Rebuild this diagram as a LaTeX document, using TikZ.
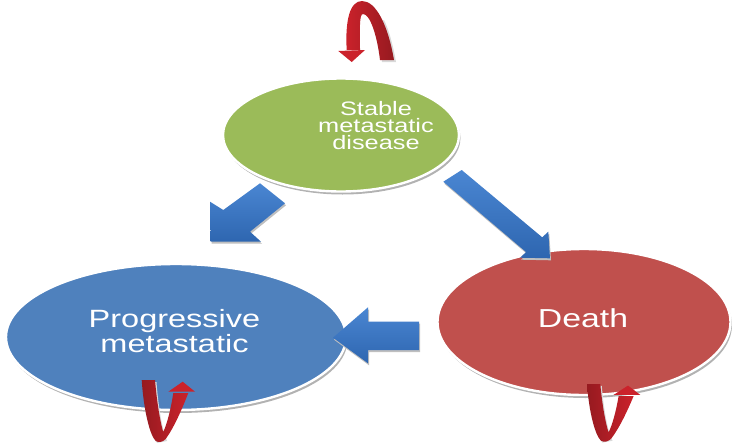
\documentclass[tikz,border=0pt]{standalone}
\usepackage{fontspec}
\setmainfont{Liberation Sans}
\usepackage{graphicx}
\usetikzlibrary{shapes.geometric,shadows}
\definecolor{egreen}{HTML}{9BBB59}
\definecolor{eblue}{HTML}{4F81BD}
\definecolor{ered}{HTML}{C0504D}
\definecolor{arblueL}{HTML}{4A86D2}
\definecolor{arblueD}{HTML}{2E66B0}
\definecolor{loopred}{HTML}{CB222B}
\definecolor{loopdark}{HTML}{961A20}
\newcommand{\widetxt}[1]{\scalebox{1.3}[1]{#1}}
\tikzset{
  stateell/.style={ellipse, draw=white, line width=2.4pt, inner sep=0pt, outer sep=0pt,
    drop shadow={shadow xshift=1.5pt, shadow yshift=-3pt, fill=gray!60, opacity=1}},
  stlabel/.style={text=white, align=center, inner sep=0pt},
  blockarrow/.style={top color=arblueL, bottom color=arblueD, draw=none,
    drop shadow={shadow xshift=1pt, shadow yshift=-2pt, fill=gray!50, opacity=1}},
  bottomloop/.style={left color=loopdark, middle color=loopdark!70!loopred, right color=loopred, draw=none},
  toploop/.style={left color=loopred, middle color=loopred, right color=loopdark, draw=none}
}
\newcommand{\redloop}{%
  \fill[gray!30] (1.5,2) .. controls (3.5,32) and (9.5,57) .. (15.5,63) -- (25.5,61)
     .. controls (20,50) and (16,20) .. (14.8,2) -- cycle;
  \path[bottomloop] (0,0) .. controls (2,30) and (8,55) .. (14,61)
     .. controls (17,63) and (21,62) .. (24,59)
     .. controls (32,48) and (40,30) .. (46.6,13) -- (31.6,13)
     .. controls (29,30) and (25,45) .. (21.5,52)
     .. controls (18,40) and (15,20) .. (13.3,0) -- cycle;
  \fill[loopred] (26.6,11.7) -- (53.3,11.7) -- (41,1.7) -- cycle;
}
\begin{document}
\begin{tikzpicture}[x=1pt,y=-1pt]
\useasboundingbox (0,0) rectangle (736,447);
% ellipses
\node[stateell, fill=egreen, minimum width=236pt, minimum height=113pt] (stable) at (341,135) {};
\node[stateell, fill=eblue, minimum width=340pt, minimum height=146pt] (prog) at (176,337) {};
\node[stateell, fill=ered, minimum width=293pt, minimum height=146pt] (death) at (584,322) {};
% labels
\node[stlabel, font=\fontsize{19.5}{17}\selectfont] (stabletxt) at (376,126)
  {\widetxt{Stable}\\\widetxt{metastatic}\\\widetxt{disease}};
\node[stlabel, font=\fontsize{25}{17}\selectfont] (progtxt) at (174.5,331)
  {\widetxt{Progressive}\\\widetxt{metastatic}};
\node[stlabel, font=\fontsize{26}{20}\selectfont] (deathtxt) at (583,318) {\widetxt{Death}};
% block arrows
\path[blockarrow] (210.7,241.7) -- (210,201.7) -- (223.3,210) -- (260,183.3)
  -- (285,203.3) -- (250,231.7) -- (261,241.7) -- cycle;
\path[blockarrow] (550,258.3) -- (520,257.7) -- (526.1,252.1) -- (443.3,181.7)
  -- (461.7,170) -- (542.2,237.3) -- (548.3,231.7) -- cycle;
\path[blockarrow] (333,337.7) -- (368,307.3) -- (368,321.7) -- (419,321.7)
  -- (419,350) -- (368,350) -- (368,363.3) -- cycle;
% top self loop
\fill[gray!30] (396,62) .. controls (392,40) and (388,28) .. (384,20) -- (380,22)
  .. controls (382,35) and (381,48) .. (382,62) -- cycle;
\path[toploop] (346.7,50) .. controls (345,20) and (350,1) .. (362,1)
  .. controls (376,1) and (388,25) .. (394,60) -- (380,60)
  .. controls (377,35) and (370,14) .. (363,14)
  .. controls (359,14) and (360,30) .. (360,50) -- cycle;
\fill[loopred] (338.3,51) -- (365,50) -- (351.7,62) -- cycle;
% bottom self loops
\begin{scope}[shift={(141.7,380)}]\redloop\end{scope}
\begin{scope}[shift={(587,384)}, yscale=0.93]\redloop\end{scope}
\end{tikzpicture}
\end{document}
